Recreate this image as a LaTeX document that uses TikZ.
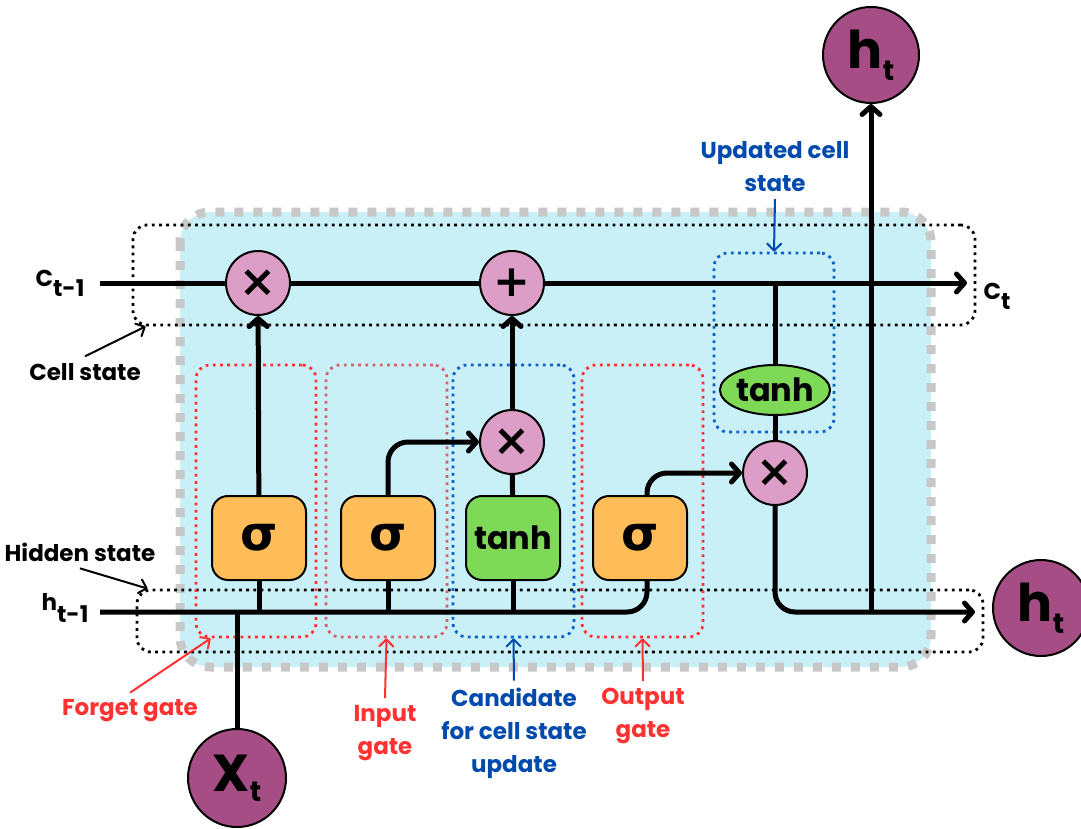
\documentclass[tikz,border=0pt]{standalone}
\usepackage{fontspec}
\setmainfont{Poppins}
\newfontfamily\symfont{DejaVu Sans}
\usetikzlibrary{arrows.meta,positioning,shapes.geometric}

\definecolor{cellbg}{HTML}{C9EFF7}
\definecolor{bordergray}{HTML}{C8C8C8}
\definecolor{oppink}{HTML}{DC9DC6}
\definecolor{sigorange}{HTML}{FFBD59}
\definecolor{tanhgreen}{HTML}{7ED957}
\definecolor{statepurple}{HTML}{A64D86}
\definecolor{gatered}{HTML}{FF3131}
\definecolor{inred}{HTML}{D9606A}
\definecolor{candblue}{HTML}{004AAD}
\definecolor{dotblue}{HTML}{0A5FC8}

\begin{document}
\begin{tikzpicture}[
  x=0.5pt, y=-0.5pt,
  wire/.style={line width=2.5pt},
  flow/.style={wire, -{Straight Barb[length=4pt,width=9pt,round]}},
  note/.style={line width=1pt, -{Straight Barb[length=3.5pt,width=7pt,round]}},
  mult/.style={circle, draw, line width=1pt, fill=oppink, minimum size=32pt, inner sep=0pt, font=\symfont\bfseries\fontsize{22}{22}\selectfont},
  gatebox/.style={draw, line width=1pt, rounded corners=8pt, fill=sigorange, minimum width=47pt, minimum height=42pt, inner sep=0pt, font=\symfont\bfseries\fontsize{24}{24}\selectfont},
  candbox/.style={gatebox, fill=tanhgreen, font=\bfseries\fontsize{16}{16}\selectfont},
  tanhell/.style={ellipse, draw, line width=1pt, fill=tanhgreen, minimum width=51pt, minimum height=25pt, inner sep=0pt, font=\bfseries\fontsize{16}{16}\selectfont},
  state/.style={circle, draw, line width=1pt, fill=statepurple, minimum size=48pt, inner sep=0pt, font=\bfseries\fontsize{26}{26}\selectfont},
  frm/.style={draw, rounded corners=7pt, line width=1.4pt, dash pattern=on 1.4pt off 2.2pt, inner sep=0pt},
  lbl/.style={font=\bfseries\fontsize{11.5}{16.5}\selectfont, align=center},
  redlbl/.style={lbl, text=gatered},
  bluelbl/.style={lbl, text=candblue}
]
\useasboundingbox (0,0) rectangle (1081,829);

% cell body
\draw[line width=4.5pt, draw=bordergray, fill=cellbg, dash pattern=on 4.5pt off 5pt, rounded corners=15pt]
  (180,212) rectangle (931,667);

% annotated regions
\node[frm, minimum width=421pt, minimum height=50pt] (cellfrm) at (554,275) {};
\node[frm, minimum width=423pt, minimum height=31pt] (hidfrm) at (560,621) {};
\node[frm, draw=gatered, minimum width=60pt, minimum height=136pt] (fg) at (256,501) {};
\node[frm, draw=inred, minimum width=60.5pt, minimum height=136pt] (ig) at (386.5,501) {};
\node[frm, draw=dotblue, minimum width=60.5pt, minimum height=136pt] (cg) at (513.5,501) {};
\node[frm, draw=gatered, minimum width=60.5pt, minimum height=136pt] (og) at (642.5,501) {};
\node[frm, draw=dotblue, minimum width=60pt, minimum height=89.5pt] (ug) at (774,342.5) {};

% operations and gates
\node[mult] (m1) at (258,283) {×};
\node[mult] (a1) at (512,283) {+};
\node[mult] (m2) at (512,442) {×};
\node[mult] (m3) at (775,473) {×};
\node[gatebox] (f) at (259,538) {σ};
\node[gatebox] (i) at (388,538) {σ};
\node[candbox] (g) at (513,538) {tanh};
\node[gatebox] (o) at (640,538) {σ};
\node[tanhell] (th) at (775,390) {tanh};

% inputs and outputs
\node[state, minimum size=49pt] (x) at (237,778) {X\raisebox{-5pt}{\fontsize{14}{14}\selectfont t}};
\node[state] (hout) at (1041,608) {h\raisebox{-6pt}{\fontsize{14}{14}\selectfont t}};
\node[state] (htop) at (871,55) {h\raisebox{-6pt}{\fontsize{14}{14}\selectfont t}};
\coordinate (cin) at (100,283);
\coordinate (cout) at (967,283);
\coordinate (hin) at (100,612);
\coordinate (hend) at (975,612);

\node[lbl] (cprev) at (60,283) {C\raisebox{-5pt}{t-1}};
\node[lbl] (hprev) at (65,608) {h\raisebox{-6pt}{t-1}};
\node[lbl] (cnext) at (997,296) {C\raisebox{-5pt}{t}};

% cell state line
\draw[wire] (cin) -- (m1);
\draw[wire] (m1) -- (a1);
\draw[flow] (a1) -- (cout);
\draw[wire] (th |- cout) -- (th);
\draw[wire] (th) -- (m3);

% hidden state line
\draw[wire, rounded corners=10pt] (hin) -| ([xshift=3.5pt]o.south);
\draw[wire] (f) -- (f |- hin);
\draw[wire] (i) -- (i |- hin);
\draw[wire] (g) -- (g |- hin);
\draw[wire] (x) -- (x |- hin);

% gate outputs
\draw[flow] (f) -- (m1);
\draw[flow, rounded corners=10pt] (i.north) |- (m2);
\draw[wire] (g) -- (m2);
\draw[flow] (m2) -- (a1);
\draw[flow, rounded corners=10pt] ([xshift=3.5pt]o.north) |- (m3);
\draw[flow, rounded corners=10pt] (m3) |- (hend);
\draw[flow] (htop |- hend) -- (htop);

% annotations
\node[lbl] (cst) at (85,372) {Cell state};
\node[lbl] (hst) at (80,552) {Hidden state};
\node[redlbl] (fgl) at (130,711) {Forget gate};
\node[redlbl] (igl) at (385,733) {Input\\gate};
\node[bluelbl] (cgl) at (514,733) {Candidate\\for cell state\\update};
\node[redlbl] (ogl) at (643,716) {Output\\gate};
\node[bluelbl] (ugl) at (775,167) {Updated cell\\state};

\draw[note] (cst.north) -- ([xshift=7pt]cellfrm.south west);
\draw[note] (hst.south) -- ([xshift=6pt]hidfrm.north west);
\draw[note, gatered] (fgl.north) -- ([xshift=8pt]fg.south west);
\draw[note, gatered] (igl.north) -- (ig.south);
\draw[note, candblue] (cgl.north) -- (cg.south);
\draw[note, gatered] (ogl.north) -- (og.south);
\draw[note, candblue] (ugl.south) -- (ug.north);
\end{tikzpicture}
\end{document}
